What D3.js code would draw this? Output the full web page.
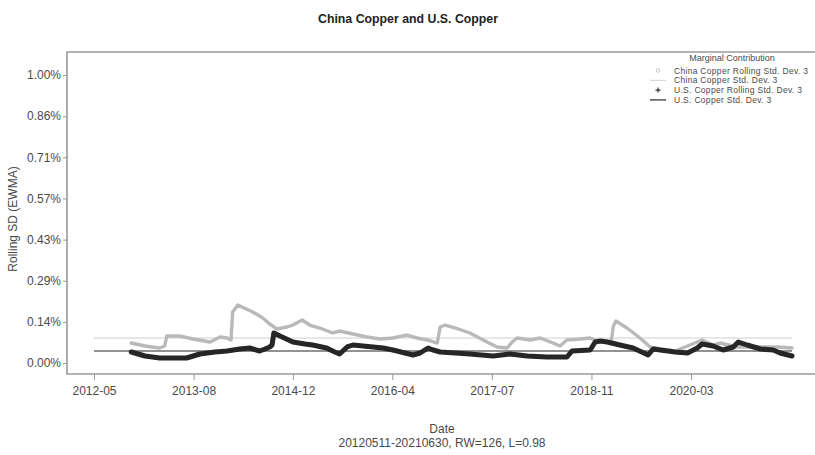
<!DOCTYPE html>
<html>
<head>
<meta charset="utf-8">
<script src="https://cdn.jsdelivr.net/npm/d3@7"></script>
<style>
  html, body { margin: 0; padding: 0; background: #fff; }
  svg { display: block; font-family: "Liberation Sans", Arial, sans-serif; }
</style>
</head>
<body>
<svg id="chart" width="815" height="455"></svg>
<script>
// ---------------- data ----------------
const chartTitle = "China Copper and U.S. Copper";
const yAxisTitle = "Rolling SD (EWMA)";
const xAxisTitle = "Date";
const xAxisSubtitle = "20120511-20210630, RW=126, L=0.98";
const legendTitle = "Marginal Contribution";
const legendLabels = [
  "China Copper Rolling Std. Dev. 3",
  "China Copper Std. Dev. 3",
  "U.S. Copper Rolling Std. Dev. 3",
  "U.S. Copper Std. Dev. 3"
];

const sampleStart = "2012-05-11";
const sampleEnd = "2021-06-30";

const xTickDates = ["2012-05-11","2013-08-30","2014-12-18","2016-04-06","2017-07-26","2018-11-14","2020-03-04"];
const yTickValues = [0, 1/7, 2/7, 3/7, 4/7, 5/7, 6/7, 1];   // percent

// China Copper rolling SD (percent)
const chinaDates = ["2012-11-05","2013-01-10","2013-03-21","2013-04-14","2013-04-24","2013-06-25","2013-08-27","2013-11-17","2014-01-04","2014-02-06","2014-02-25","2014-03-05","2014-03-29","2014-06-09","2014-07-27","2014-08-29","2014-10-03","2014-11-20","2014-12-18","2015-01-31","2015-03-08","2015-04-25","2015-06-27","2015-07-29","2015-10-01","2015-12-07","2016-02-08","2016-04-09","2016-06-15","2016-08-02","2016-09-19","2016-11-07","2016-11-21","2016-12-15","2017-02-02","2017-04-12","2017-07-03","2017-08-20","2017-10-07","2017-10-31","2017-11-24","2018-01-26","2018-03-13","2018-05-14","2018-06-17","2018-07-20","2018-09-21","2018-11-08","2018-12-11","2019-01-29","2019-02-17","2019-02-27","2019-03-11","2019-05-03","2019-07-04","2019-08-22","2019-10-09","2019-12-19","2020-02-28","2020-04-26","2020-06-18","2020-07-21","2020-10-11","2020-12-13","2021-02-14","2021-04-20","2021-06-30"];
const chinaValues = [0.0694,0.0590,0.0521,0.0590,0.0938,0.0938,0.0833,0.0729,0.0903,0.0868,0.0799,0.1771,0.2014,0.1771,0.1563,0.1354,0.1181,0.1250,0.1319,0.1493,0.1319,0.1215,0.1042,0.1111,0.1007,0.0903,0.0833,0.0868,0.0972,0.0868,0.0799,0.0694,0.1250,0.1319,0.1215,0.1042,0.0729,0.0556,0.0521,0.0729,0.0868,0.0799,0.0868,0.0694,0.0590,0.0799,0.0833,0.0868,0.0764,0.0729,0.0764,0.1285,0.1458,0.1215,0.0868,0.0556,0.0486,0.0417,0.0625,0.0799,0.0625,0.0694,0.0556,0.0556,0.0556,0.0556,0.0521];

// U.S. Copper rolling SD (percent)
const usDates = ["2012-11-05","2013-01-10","2013-03-21","2013-06-01","2013-07-28","2013-09-29","2013-12-10","2014-02-06","2014-04-08","2014-05-25","2014-07-12","2014-08-06","2014-08-29","2014-09-09","2014-09-18","2014-10-17","2014-12-18","2015-02-14","2015-03-22","2015-05-28","2015-07-06","2015-07-29","2015-09-03","2015-10-01","2015-11-18","2016-01-05","2016-02-22","2016-04-09","2016-06-06","2016-07-14","2016-08-17","2016-09-24","2016-10-18","2016-11-21","2017-02-02","2017-04-12","2017-08-01","2017-10-21","2018-01-11","2018-04-15","2018-07-20","2018-08-13","2018-11-08","2018-12-02","2018-12-26","2019-01-29","2019-03-30","2019-06-01","2019-08-12","2019-09-05","2019-10-09","2019-12-19","2020-02-16","2020-04-03","2020-04-26","2020-06-18","2020-08-05","2020-09-22","2020-10-16","2020-11-28","2021-01-30","2021-04-01","2021-05-04","2021-06-30"];
const usValues = [0.0382,0.0243,0.0174,0.0174,0.0174,0.0313,0.0382,0.0417,0.0486,0.0521,0.0417,0.0486,0.0556,0.0625,0.1042,0.0938,0.0729,0.0660,0.0625,0.0521,0.0382,0.0313,0.0556,0.0625,0.0590,0.0556,0.0521,0.0451,0.0347,0.0278,0.0347,0.0521,0.0451,0.0382,0.0347,0.0313,0.0243,0.0313,0.0243,0.0208,0.0208,0.0417,0.0451,0.0729,0.0764,0.0729,0.0625,0.0521,0.0278,0.0486,0.0451,0.0382,0.0347,0.0521,0.0660,0.0590,0.0451,0.0556,0.0729,0.0625,0.0486,0.0451,0.0347,0.0243];

// full-sample standard deviations (percent)
const chinaStd = 0.0868;
const usStd = 0.0417;

// ---------------- drawing ----------------
const parse = d3.timeParse("%Y-%m-%d");
const fmt = d3.timeFormat("%Y-%m");
const svg = d3.select("#chart");

const box = { left: 67, top: 52, right: 817, bottom: 374 };

const x = d3.scaleTime()
  .domain([parse(xTickDates[0]), parse(xTickDates[xTickDates.length - 1])])
  .range([94, 691]);
const y = d3.scaleLinear().domain([0, 1]).range([363, 75]);

const china = chinaDates.map((d, i) => ({ date: parse(d), v: chinaValues[i] }));
const us = usDates.map((d, i) => ({ date: parse(d), v: usValues[i] }));

const axisColor = "#9a9a9a";
const textColor = "#4a4a4a";

// title
svg.append("text")
  .attr("x", 408).attr("y", 23)
  .attr("text-anchor", "middle")
  .attr("textLength", 180).attr("lengthAdjust", "spacingAndGlyphs")
  .style("font-family", "'Liberation Sans Narrow', 'Liberation Sans', Arial, sans-serif")
  .style("font-weight", "bold").style("font-size", "13.5px")
  .attr("fill", "#222")
  .text(chartTitle);

// plot box (left, top, bottom)
svg.append("path")
  .attr("d", `M${box.right},${box.top}H${box.left}V${box.bottom}H${box.right}`)
  .attr("fill", "none").attr("stroke", axisColor).attr("stroke-width", 1.6);

// y axis
const yAxis = d3.axisLeft(y).tickValues(yTickValues).tickSize(4).tickPadding(2)
  .tickFormat(d => d.toFixed(2) + "%");
const gy = svg.append("g").attr("transform", `translate(${box.left},0)`).call(yAxis);
gy.select(".domain").remove();
gy.selectAll("line").attr("stroke", axisColor);
gy.selectAll("text").attr("fill", textColor).style("font-size", "12px")
  .style("font-family", "'Liberation Sans', Arial, sans-serif");

// x axis
const xAxis = d3.axisBottom(x).tickValues(xTickDates.map(parse)).tickSize(6).tickPadding(6)
  .tickFormat(fmt);
const gx = svg.append("g").attr("transform", `translate(0,${box.bottom})`).call(xAxis);
gx.select(".domain").remove();
gx.selectAll("line").attr("stroke", axisColor);
gx.selectAll("text").attr("fill", textColor).style("font-size", "12px")
  .style("font-family", "'Liberation Sans', Arial, sans-serif");

// axis titles
svg.append("text")
  .attr("transform", `translate(17,${(75 + 363) / 2}) rotate(-90)`)
  .attr("text-anchor", "middle")
  .attr("fill", textColor).style("font-size", "12px")
  .text(yAxisTitle);
svg.append("text")
  .attr("x", 442).attr("y", 433)
  .attr("text-anchor", "middle")
  .attr("fill", textColor).style("font-size", "12px")
  .text(xAxisTitle);
svg.append("text")
  .attr("x", 442).attr("y", 447)
  .attr("text-anchor", "middle")
  .attr("fill", textColor).style("font-size", "12px")
  .text(xAxisSubtitle);

// std lines
const x0 = x(parse(sampleStart)), x1 = x(parse(sampleEnd));
svg.append("line")
  .attr("x1", x0).attr("x2", x1).attr("y1", y(chinaStd)).attr("y2", y(chinaStd))
  .attr("stroke", "#cfcfcf").attr("stroke-width", 1.2);
svg.append("line")
  .attr("x1", x0).attr("x2", x1).attr("y1", y(usStd)).attr("y2", y(usStd))
  .attr("stroke", "#6e6e6e").attr("stroke-width", 1.6);

const line = d3.line().x(d => x(d.date)).y(d => y(d.v)).curve(d3.curveLinear);

svg.append("path").datum(china)
  .attr("d", line).attr("fill", "none")
  .attr("stroke", "#b9b9b9").attr("stroke-width", 3.4)
  .attr("stroke-linejoin", "round").attr("stroke-linecap", "round");

svg.append("path").datum(us)
  .attr("d", line).attr("fill", "none")
  .attr("stroke", "#262626").attr("stroke-width", 5)
  .attr("stroke-linejoin", "round").attr("stroke-linecap", "round");

// legend
const lg = svg.append("g").style("font-size", "8.5px").attr("fill", textColor);
lg.append("text").attr("x", 732).attr("y", 61).attr("text-anchor", "middle")
  .style("font-size", "9px").attr("fill", textColor).text(legendTitle);
const rowY = [73.5, 83.3, 93.1, 102.9];
legendLabels.forEach((lab, i) => {
  lg.append("text").attr("x", 674).attr("y", rowY[i]).attr("fill", textColor)
    .style("letter-spacing", "0.3px").text(lab);
});
const sx = 658;
lg.append("circle").attr("cx", sx).attr("cy", rowY[0] - 3).attr("r", 1.8)
  .attr("fill", "none").attr("stroke", "#bdbdbd").attr("stroke-width", 0.9);
lg.append("line").attr("x1", sx - 8).attr("x2", sx + 8).attr("y1", rowY[1] - 3).attr("y2", rowY[1] - 3)
  .attr("stroke", "#cfcfcf").attr("stroke-width", 1);
lg.append("path").attr("d", `M${sx - 2.5},${rowY[2] - 3}h5M${sx},${rowY[2] - 5.5}v5`)
  .attr("stroke", "#333").attr("stroke-width", 1.2);
lg.append("line").attr("x1", sx - 8).attr("x2", sx + 8).attr("y1", rowY[3] - 3).attr("y2", rowY[3] - 3)
  .attr("stroke", "#555").attr("stroke-width", 1.5);
</script>
</body>
</html>
